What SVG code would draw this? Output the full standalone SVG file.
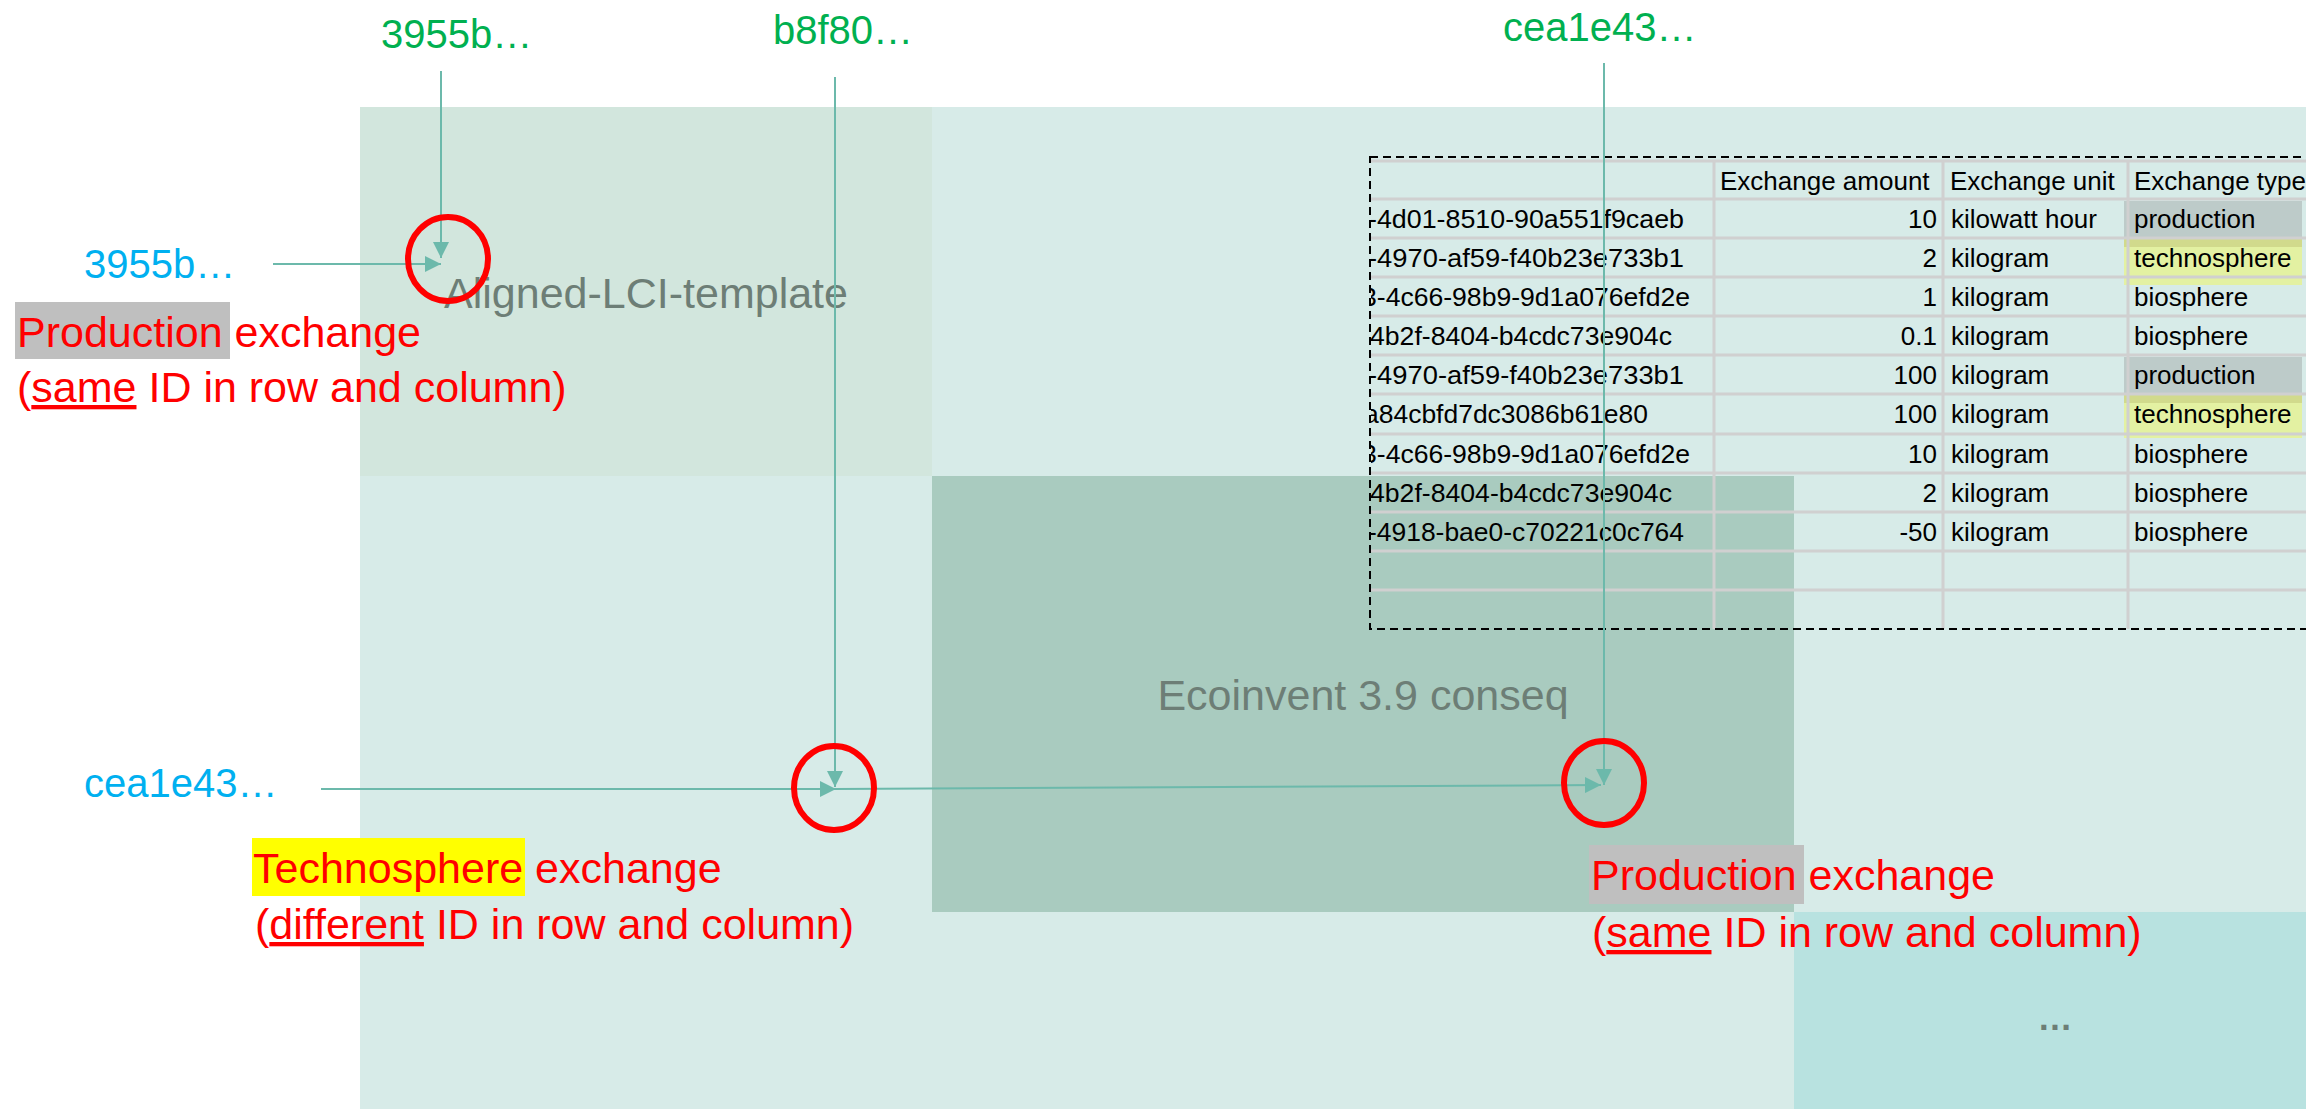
<svg xmlns="http://www.w3.org/2000/svg" width="2306" height="1109" viewBox="0 0 2306 1109">
<style>
text{font-family:"Liberation Sans",Arial,sans-serif}
.region{font-size:43px;fill:#6d7e76;text-anchor:middle}
.green{font-size:40px;fill:#00b050}
.blue{font-size:40px;fill:#00b0f0}
.red{font-size:43px;fill:#ff0000}
.tbl{font-size:26px;fill:#000}
.num{font-size:26px;fill:#000;text-anchor:end}
.id{font-size:26px;fill:#000}
.grid{stroke:#d0d0d0;stroke-width:3;fill:none}
.conn{stroke:#6cb9ab;stroke-width:2;fill:none}
.ring{stroke:#ff0000;stroke-width:6;fill:none}
.u{text-decoration:underline}
</style>
<defs>
<marker id="arr" viewBox="0 0 16 16" refX="16" refY="8" markerWidth="16" markerHeight="16" markerUnits="userSpaceOnUse" orient="auto">
<path d="M0,0 L16,8 L0,16 Z" fill="#6cb9ab"/>
</marker>
<clipPath id="idclip"><rect x="1371" y="150" width="400" height="500"/></clipPath>
</defs>
<rect x="0" y="0" width="2306" height="1109" fill="#ffffff"/>

<g id="matrix-background"><rect x="360" y="107" width="1946" height="1002" fill="#d7ebe8"/></g>
<g id="aligned-lci-template">
<rect x="360" y="107" width="572" height="369" fill="#d2e6dd"/>
<text class="region" x="646" y="308">Aligned-LCI-template</text>
</g>
<g id="ecoinvent">
<rect x="932" y="476" width="862" height="436" fill="#a9cbbf"/>
<text class="region" x="1363" y="710">Ecoinvent 3.9 conseq</text>
</g>
<g id="more">
<rect x="1794" y="912" width="512" height="197" fill="#b8e2e0"/>
<text x="2055" y="1030" style="font-size:35px;font-weight:bold;fill:#6d7e76;text-anchor:middle">…</text>
</g>

<g id="exchange-table">
<rect x="2124" y="201" width="178" height="46" fill="#808080" fill-opacity="0.3"/>
<rect x="2124" y="238" width="178" height="47" fill="#ffff00" fill-opacity="0.3"/>
<rect x="2124" y="357" width="178" height="46" fill="#808080" fill-opacity="0.3"/>
<rect x="2124" y="393" width="178" height="45" fill="#ffff00" fill-opacity="0.3"/>
<path class="grid" d="M1370,161H2306 M1370,199H2306 M1370,238H2306 M1370,277H2306 M1370,316H2306 M1370,355H2306 M1370,394H2306 M1370,434H2306 M1370,473H2306 M1370,512H2306 M1370,551H2306 M1370,590H2306 M1714,161V629 M1943,161V629 M2128,161V629"/>
<rect x="1370" y="157" width="1000" height="472" fill="none" stroke="#000" stroke-width="2" stroke-dasharray="8,5"/>
<text class="tbl" x="1720" y="190">Exchange amount</text>
<text class="tbl" x="1950" y="190">Exchange unit</text>
<text class="tbl" x="2134" y="190">Exchange type</text>
<g clip-path="url(#idclip)" class="id">
<text x="1368" y="228" textLength="316" lengthAdjust="spacingAndGlyphs">-4d01-8510-90a551f9caeb</text>
<text x="1368" y="267" textLength="316" lengthAdjust="spacingAndGlyphs">-4970-af59-f40b23e733b1</text>
<text x="1362" y="306" textLength="328" lengthAdjust="spacingAndGlyphs">3-4c66-98b9-9d1a076efd2e</text>
<text x="1370" y="345" textLength="302" lengthAdjust="spacingAndGlyphs">4b2f-8404-b4cdc73e904c</text>
<text x="1368" y="384" textLength="316" lengthAdjust="spacingAndGlyphs">-4970-af59-f40b23e733b1</text>
<text x="1364" y="423" textLength="284" lengthAdjust="spacingAndGlyphs">a84cbfd7dc3086b61e80</text>
<text x="1362" y="463" textLength="328" lengthAdjust="spacingAndGlyphs">3-4c66-98b9-9d1a076efd2e</text>
<text x="1370" y="502" textLength="302" lengthAdjust="spacingAndGlyphs">4b2f-8404-b4cdc73e904c</text>
<text x="1368" y="541" textLength="316" lengthAdjust="spacingAndGlyphs">-4918-bae0-c70221c0c764</text>
</g>
<g class="num">
<text x="1937" y="228">10</text>
<text x="1937" y="267">2</text>
<text x="1937" y="306">1</text>
<text x="1937" y="345">0.1</text>
<text x="1937" y="384">100</text>
<text x="1937" y="423">100</text>
<text x="1937" y="463">10</text>
<text x="1937" y="502">2</text>
<text x="1937" y="541">-50</text>
</g>
<g class="tbl">
<text x="1951" y="228">kilowatt hour</text>
<text x="1951" y="267">kilogram</text>
<text x="1951" y="306">kilogram</text>
<text x="1951" y="345">kilogram</text>
<text x="1951" y="384">kilogram</text>
<text x="1951" y="423">kilogram</text>
<text x="1951" y="463">kilogram</text>
<text x="1951" y="502">kilogram</text>
<text x="1951" y="541">kilogram</text>
<text x="2134" y="228">production</text>
<text x="2134" y="267">technosphere</text>
<text x="2134" y="306">biosphere</text>
<text x="2134" y="345">biosphere</text>
<text x="2134" y="384">production</text>
<text x="2134" y="423">technosphere</text>
<text x="2134" y="463">biosphere</text>
<text x="2134" y="502">biosphere</text>
<text x="2134" y="541">biosphere</text>
</g>
</g>

<g id="column-labels">
<text class="green" x="381" y="48">3955b…</text>
<text class="green" x="773" y="44">b8f80…</text>
<text class="green" x="1503" y="41">cea1e43…</text>
</g>
<g id="row-labels">
<text class="blue" x="84" y="278">3955b…</text>
<text class="blue" x="84" y="797">cea1e43…</text>
</g>

<g id="connectors">
<line class="conn" x1="441" y1="71" x2="441" y2="258" marker-end="url(#arr)"/>
<line class="conn" x1="835" y1="77" x2="835" y2="787" marker-end="url(#arr)"/>
<line class="conn" x1="1604" y1="63" x2="1604" y2="785" marker-end="url(#arr)"/>
<line class="conn" x1="273" y1="264" x2="441" y2="264" marker-end="url(#arr)"/>
<line class="conn" x1="321" y1="789" x2="836" y2="789" marker-end="url(#arr)"/>
<line class="conn" x1="836" y1="789" x2="1601" y2="785" marker-end="url(#arr)"/>
</g>

<g id="highlight-rings">
<ellipse class="ring" cx="448" cy="259" rx="40" ry="42"/>
<ellipse class="ring" cx="834" cy="788" rx="40" ry="42"/>
<ellipse class="ring" cx="1604" cy="783" rx="40" ry="42"/>
</g>

<g id="note-production-1">
<rect x="15" y="302" width="215" height="57" fill="#bfbfbf"/>
<text class="red" x="17" y="347">Production exchange</text>
<text class="red" x="17" y="402">(<tspan class="u">same</tspan> ID in row and column)</text>
</g>
<g id="note-technosphere">
<rect x="252" y="838" width="273" height="58" fill="#ffff00"/>
<text class="red" x="253" y="883">Technosphere exchange</text>
<text class="red" x="255" y="939">(<tspan class="u">different</tspan> ID in row and column)</text>
</g>
<g id="note-production-2">
<rect x="1589" y="845" width="215" height="59" fill="#bfbfbf"/>
<text class="red" x="1591" y="890">Production exchange</text>
<text class="red" x="1592" y="947">(<tspan class="u">same</tspan> ID in row and column)</text>
</g>
</svg>
